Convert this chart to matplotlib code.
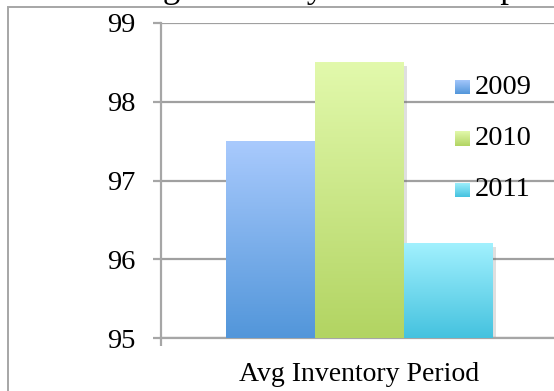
import numpy as np
import matplotlib.pyplot as plt
import matplotlib.colors as mlc
import matplotlib.patheffects as pe
from matplotlib.patches import Rectangle

# data
category = 'Avg Inventory Period'
years = ['2009', '2010', '2011']
values = [97.5, 98.5, 96.2]
title = 'Avg Inventory Period Comparison'

# gradient ends for each series (top, bottom)
grad_top = ['#a9cafd', '#e2f9ac', '#a2f1fe']
grad_bot = ['#5296da', '#b2d462', '#44c2df']

plt.rcParams['font.family'] = ['Liberation Serif', 'DejaVu Serif']

W, H = 554, 391
fig = plt.figure(figsize=(W / 100, H / 100), dpi=100)

# outer chart frame (runs off the right and bottom edge)
fig.patches.append(Rectangle((7.5 / W, -0.1), 1.2, (H - 7) / H + 0.1,
                             transform=fig.transFigure, fill=False,
                             edgecolor='#a6a6a6', lw=1.4))

fig.text(123 / W, 1.007, title, ha='left', va='baseline', fontsize=25)

left, right = 160.5, 558
bottom, top = 338, 23
ax = fig.add_axes([left / W, (H - bottom) / H, (right - left) / W, (bottom - top) / H])

ax.set_ylim(95, 99)
ax.set_xlim(-0.5, 0.5)
ax.set_yticks([95, 96, 97, 98, 99])
ax.yaxis.grid(True, color='#a0a0a0', lw=1.6)
ax.set_axisbelow(True)
for s in ['top', 'right']:
    ax.spines[s].set_visible(False)
for s in ['left', 'bottom']:
    ax.spines[s].set_color('#a6a6a6')
    ax.spines[s].set_linewidth(1.6)
ax.tick_params(axis='y', length=6, width=1.6, color='#a6a6a6', pad=12, labelsize=20.5)
ax.set_xticks([0])
ax.set_xticklabels([category])
ax.tick_params(axis='x', which='major', length=0, pad=17, labelsize=20)
ax.set_xticks([-0.5], minor=True)
ax.tick_params(axis='x', which='minor', length=6, width=1.6, color='#a6a6a6')

w = 0.2228
xs = (np.arange(len(years)) - 1) * w
bars = ax.bar(xs, np.array(values) - 95, width=w, bottom=95, color=grad_bot,
              linewidth=0, zorder=2,
              path_effects=[pe.SimplePatchShadow(offset=(2.5, -2.5), alpha=0.2, shadow_rgbFace='#606060'),
                            pe.Normal()])

grad = np.linspace(0, 1, 256).reshape(-1, 1)
for b, c0, c1 in zip(bars, grad_top, grad_bot):
    cmap = mlc.LinearSegmentedColormap.from_list('g', [c1, c0])
    x0, y0 = b.get_x(), b.get_y()
    im = ax.imshow(grad, cmap=cmap, aspect='auto', origin='lower',
                   extent=(x0, x0 + b.get_width(), y0, y0 + b.get_height()), zorder=3)
    im.set_clip_path(b)
ax.set_xlim(-0.5, 0.5)
ax.set_ylim(95, 99)

# legend with small gradient swatches
for i, (yr, c0, c1) in enumerate(zip(years, grad_top, grad_bot)):
    cy = 87 + i * 51.5
    sw = fig.add_axes([455 / W, (H - cy - 7.5) / H, 15 / W, 15 / H])
    sw.imshow(grad, cmap=mlc.LinearSegmentedColormap.from_list('s', [c1, c0]),
              aspect='auto', origin='lower')
    sw.axis('off')
    fig.text(475 / W, (H - cy) / H, yr, ha='left', va='center', fontsize=20.5)

fig.savefig('out.png', dpi=100)
